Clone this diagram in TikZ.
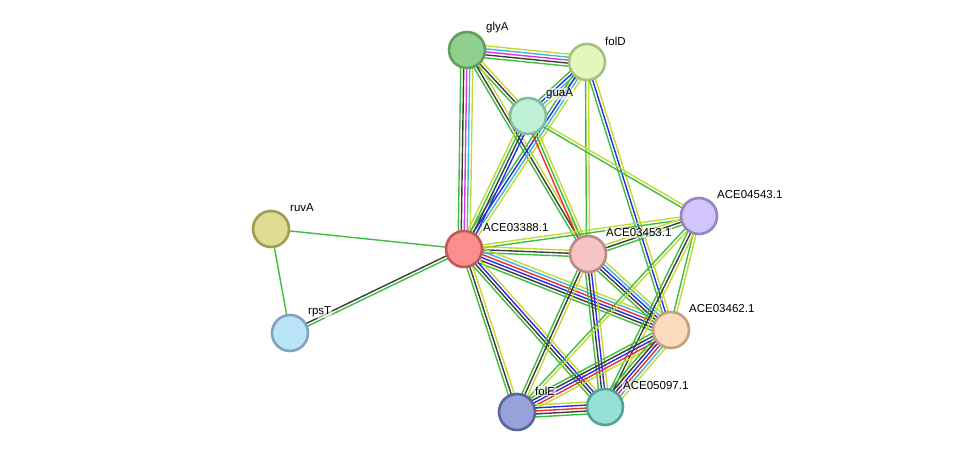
\documentclass[tikz,border=0pt]{standalone}
\usepackage{fontspec}
\setmainfont{Liberation Sans}
\usetikzlibrary{calc}
\definecolor{cg}{HTML}{3DBE3D}
\definecolor{cy}{HTML}{C5D834}
\definecolor{ck}{HTML}{3C3C3C}
\definecolor{cb}{HTML}{2B2BEB}
\definecolor{cc}{HTML}{3BB8DC}
\definecolor{cm}{HTML}{D43CD4}
\definecolor{cr}{HTML}{E83030}
\newcommand\edg[4]{%
  \foreach \c [count=\i] in {#4}{%
    \pgfmathsetlengthmacro\o{(\i-(#3+1)/2)*3pt}%
    \draw[line width=1.4pt,color=\c] ($(#1)!\o!90:(#2)$) -- ($(#2)!\o!-90:(#1)$);
  }}
\tikzset{prot/.style={circle,minimum size=36pt,inner sep=0pt,line width=2.6pt},
  lab/.style={anchor=west,font=\fontsize{11.5}{12}\selectfont,inner sep=1pt,fill=white,fill opacity=0.6,text opacity=1}}
\begin{document}
\begin{tikzpicture}[x=1pt,y=-1pt]
\useasboundingbox (0,0) rectangle (975,458);
\coordinate (glyA) at (467,50);
\coordinate (folD) at (587,62);
\coordinate (guaA) at (528,116);
\coordinate (ruvA) at (271,229);
\coordinate (A88) at (464,249);
\coordinate (A53) at (588,254);
\coordinate (A43) at (699,216);
\coordinate (A62) at (671,330);
\coordinate (rpsT) at (290,333);
\coordinate (folE) at (517,412);
\coordinate (A97) at (605,407);
\edg{glyA}{folD}{5}{cg,ck,cm,cc,cy}
\edg{glyA}{guaA}{3}{cg,ck,cy}
\edg{glyA}{A88}{5}{cg,ck,cm,cc,cy}
\edg{glyA}{A53}{3}{cg,ck,cy}
\edg{folD}{guaA}{4}{cg,cb,cc,cy}
\edg{folD}{A88}{4}{cg,cb,cc,cy}
\edg{folD}{A53}{2}{cg,cy}
\edg{folD}{A62}{3}{cg,cb,cy}
\edg{guaA}{A88}{4}{cy,cg,ck,cb}
\edg{guaA}{A53}{3}{cr,cg,cy}
\edg{guaA}{A43}{2}{cg,cy}
\edg{ruvA}{A88}{1}{cg}
\edg{ruvA}{rpsT}{1}{cg}
\edg{rpsT}{A88}{2}{cg,ck}
\edg{A88}{A43}{2}{cg,cy}
\edg{A88}{A53}{3}{cg,ck,cy}
\edg{A88}{A62}{6}{cg,ck,cb,cr,cc,cy}
\edg{A88}{folE}{3}{cg,ck,cy}
\edg{A88}{A97}{4}{cg,ck,cb,cy}
\edg{A53}{A43}{3}{cg,ck,cy}
\edg{A53}{A62}{5}{cg,ck,cb,cc,cy}
\edg{A53}{folE}{3}{cg,ck,cy}
\edg{A53}{A97}{4}{cg,ck,cb,cy}
\edg{A43}{A62}{2}{cg,cy}
\edg{A43}{folE}{2}{cg,cy}
\edg{A43}{A97}{3}{cg,ck,cy}
\edg{A62}{folE}{5}{cg,ck,cb,cr,cy}
\edg{A62}{A97}{6}{cg,ck,cb,cr,cc,cy}
\edg{folE}{A97}{5}{cg,ck,cr,cb,cy}
\node[prot,fill={rgb,255:red,143;green,208;blue,143},draw={rgb,255:red,95;green,159;blue,95}] (nglyA) at (glyA) {};
\node[prot,fill={rgb,255:red,226;green,247;blue,185},draw={rgb,255:red,167;green,192;blue,127}] (nfolD) at (folD) {};
\node[prot,fill={rgb,255:red,192;green,240;blue,216},draw={rgb,255:red,127;green,191;blue,159}] (nguaA) at (guaA) {};
\node[prot,fill={rgb,255:red,224;green,220;blue,150},draw={rgb,255:red,160;green,156;blue,80}] (nruvA) at (ruvA) {};
\node[prot,fill={rgb,255:red,252;green,142;blue,142},draw={rgb,255:red,192;green,90;blue,90}] (n88) at (A88) {};
\node[prot,fill={rgb,255:red,247;green,196;blue,196},draw={rgb,255:red,184;green,138;blue,138}] (n53) at (A53) {};
\node[prot,fill={rgb,255:red,210;green,197;blue,251},draw={rgb,255:red,148;green,133;blue,192}] (n43) at (A43) {};
\node[prot,fill={rgb,255:red,252;green,220;blue,188},draw={rgb,255:red,191;green,160;blue,127}] (n62) at (A62) {};
\node[prot,fill={rgb,255:red,188;green,228;blue,248},draw={rgb,255:red,127;green,164;blue,192}] (nrpsT) at (rpsT) {};
\node[prot,fill={rgb,255:red,150;green,162;blue,218},draw={rgb,255:red,90;green,101;blue,158}] (nfolE) at (folE) {};
\node[prot,fill={rgb,255:red,150;green,224;blue,214},draw={rgb,255:red,90;green,160;blue,150}] (n97) at (A97) {};
\node[lab] (lglyA) at (485,28) {glyA};
\node[lab] (lfolD) at (604,41) {folD};
\node[lab] (lguaA) at (545,94) {guaA};
\node[lab] (lruvA) at (289,208) {ruvA};
\node[lab] (l88) at (482,228) {ACE03388.1};
\node[lab] (l53) at (605,233) {ACE03453.1};
\node[lab] (l43) at (716,195) {ACE04543.1};
\node[lab] (l62) at (688,309) {ACE03462.1};
\node[lab] (lrpsT) at (307,312) {rpsT};
\node[lab] (lfolE) at (534,391) {folE};
\node[lab] (l97) at (622,386) {ACE05097.1};
\end{tikzpicture}
\end{document}
